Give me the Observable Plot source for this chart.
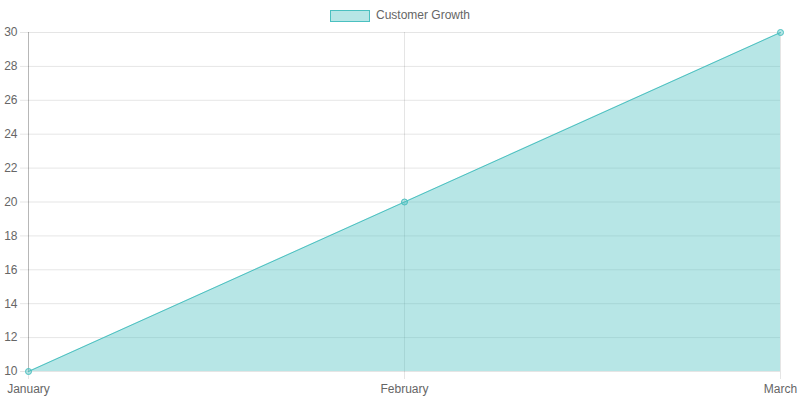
<!DOCTYPE html>
<html>
<head>
<meta charset="utf-8">
<script src="https://cdn.jsdelivr.net/npm/d3@7"></script>
<script src="https://cdn.jsdelivr.net/npm/@observablehq/plot@0.6"></script>
<style>
  html, body { margin: 0; padding: 0; background: #fff; }
  body { width: 800px; height: 400px; overflow: hidden; font-family: "Liberation Sans", Arial, Helvetica, sans-serif; }
  #legend { height: 22px; position: relative; font-size: 12px; color: #666; }
  #legend .box { position: absolute; left: 330px; top: 10px; width: 38px; height: 10px; background: rgba(75,192,192,0.4); border: 1px solid rgb(75,192,192); }
  #legend .label { position: absolute; left: 376px; top: 8px; line-height: 14px; }
  #chart svg { display: block; }
</style>
</head>
<body>
<div id="legend"><div class="box"></div><div class="label">Customer Growth</div></div>
<div id="chart"></div>
<script>
const months = ["January", "February", "March"];
const customers = [10, 20, 30];
const yTicks = [10, 12, 14, 16, 18, 20, 22, 24, 26, 28, 30];

const data = months.map((m, i) => ({ month: m, value: customers[i] }));

const chart = Plot.plot({
  width: 800,
  height: 378,
  marginTop: 10,
  marginBottom: 29,
  marginLeft: 28,
  marginRight: 20,
  style: { fontFamily: "'Liberation Sans', Arial, Helvetica, sans-serif", fontSize: "12px", color: "#666", background: "#fff" },
  x: { type: "point", domain: months, padding: 0, label: null },
  y: { domain: [10, 30], label: null },
  marks: [
    Plot.ruleY(yTicks, { y: d => d, stroke: "rgba(0,0,0,0.1)" }),
    Plot.ruleX(months, { x: d => d, y1: 10, y2: 30, stroke: "rgba(0,0,0,0.1)" }),
    Plot.axisY(yTicks, { tickSize: 8, tickPadding: 3, stroke: "rgba(0,0,0,0.1)", fill: "#666", label: null }),
    Plot.axisX(months, { tickSize: 8, tickPadding: 5, stroke: "rgba(0,0,0,0.1)", fill: "#666", label: null }),
    Plot.ruleX([months[0]], { y1: 10, y2: 30, stroke: "rgba(0,0,0,0.2)" }),
    Plot.areaY(data, { x: "month", y1: 10, y2: "value", fill: "rgba(75,192,192,0.4)" }),
    Plot.lineY(data, { x: "month", y: "value", stroke: "rgb(75,192,192)", strokeWidth: 1 }),
    Plot.dot(data, { x: "month", y: "value", r: 3, fill: "rgba(75,192,192,0.4)", stroke: "rgb(75,192,192)", strokeWidth: 1 })
  ]
});
document.getElementById("chart").appendChild(chart);
</script>
</body>
</html>
